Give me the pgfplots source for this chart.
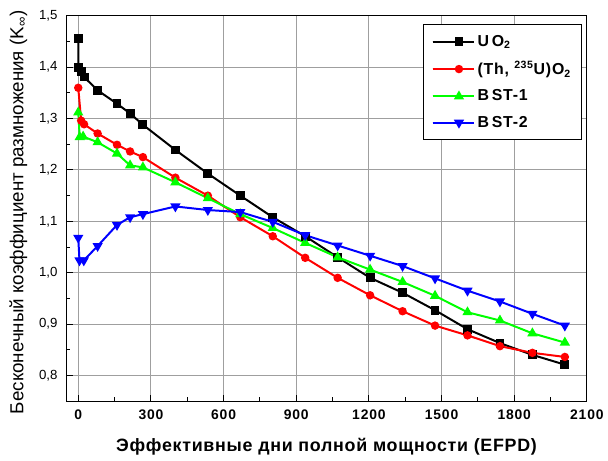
\documentclass[border=0pt]{standalone}
\usepackage{pgfplots}
\pgfplotsset{compat=1.18}
\usepackage{fontspec}
\setmainfont{Liberation Sans}
\begin{document}
\begin{tikzpicture}
\begin{axis}[
  scale only axis,
  width=393.6pt, height=291.2pt,
  xmin=-50, xmax=2100, ymin=0.75, ymax=1.5,
  xtick={0,300,...,2100},
  minor xtick={150,450,...,1950},
  ytick={0.8,0.9,...,1.51},
  minor ytick={0.75,0.85,...,1.46},
  tick align=inside,
  tick pos=left,
  major tick length=5pt,
  minor tick length=3pt,
  every tick/.style={black, line width=0.75pt},
  grid=major,
  major grid style={gray!75, line width=0.8pt},
  axis line style={black, line width=0.9pt},
  /pgf/number format/assume math mode=true,
  yticklabel style={font=\fontsize{10}{12}\selectfont, /pgf/number format/.cd, use comma, fixed, fixed zerofill, precision=1},
  xticklabel style={font=\fontsize{10.5}{12}\selectfont\bfseries\addfontfeature{LetterSpace=6}, yshift=-3pt, /pgf/number format/.cd, 1000 sep={}},
  yticklabel shift=3pt,
  xlabel={\addfontfeature{LetterSpace=4}Эффективные дни полной мощности (EFPD)},
  xlabel style={font=\fontsize{13.5}{16}\selectfont\bfseries, at={(axis description cs:0.5,-0.131)}, anchor=base},
  ylabel={Бесконечный коэффициент размножения (K\textsubscript{∞})},
  ylabel style={font=\fontsize{14.2}{16}\selectfont, at={(axis description cs:-0.092,0.49)}, anchor=center},
  legend style={at={(axis description cs:0.991,0.979)}, anchor=north east,
    draw=black, line width=1pt, fill=white,
    font=\fontsize{12}{14}\selectfont\bfseries\addfontfeature{LetterSpace=5},
    row sep=6pt, inner xsep=6pt, inner ysep=6pt},
  legend cell align=left,
  legend image code/.code={
    \draw[#1, line width=1.5pt] (0cm,0cm) -- (1.1cm,0cm);
    \draw[#1, line width=1.5pt, mark repeat=2, mark phase=2] plot coordinates {(0cm,0cm) (0.7cm,0cm) (1.1cm,0cm)};
  },
]
\addplot[black, line width=1.5pt, mark=square*, mark size=2.6pt] coordinates {
(0,1.456) (1,1.400) (12,1.392) (24,1.381) (80,1.355) (160,1.329) (214,1.310) (267,1.288)
(401,1.239) (535,1.193) (669,1.150) (803,1.108) (937,1.071) (1071,1.030) (1205,0.990)
(1339,0.961) (1473,0.927) (1607,0.890) (1741,0.863) (1875,0.840) (2009,0.821)};
\addlegendentry{U\,O\textsubscript{2}}
\addplot[red, line width=1.5pt, mark=*, mark size=2.4pt] coordinates {
(0,1.360) (12,1.296) (24,1.289) (80,1.271) (160,1.249) (214,1.236) (267,1.225)
(401,1.185) (535,1.150) (669,1.108) (803,1.071) (937,1.029) (1071,0.990) (1205,0.956)
(1339,0.925) (1473,0.897) (1607,0.878) (1741,0.857) (1875,0.844) (2009,0.836)};
\addlegendentry{(Th, \textsuperscript{235}U)O\textsubscript{2}}
\addplot[green, line width=1.5pt, mark=triangle*, mark size=3pt] coordinates {
(0,1.312) (6,1.264) (20,1.265) (80,1.254) (160,1.232) (214,1.209) (267,1.205)
(401,1.176) (535,1.145) (669,1.114) (803,1.087) (937,1.058) (1071,1.030) (1205,1.006)
(1339,0.982) (1473,0.955) (1607,0.923) (1741,0.907) (1875,0.882) (2009,0.864)};
\addlegendentry{B\,ST-1}
\addplot[blue, line width=1.5pt, mark=triangle*, mark size=3pt, mark options={rotate=180}] coordinates {
(0,1.068) (5,1.024) (23,1.024) (80,1.052) (160,1.093) (214,1.108) (267,1.114)
(401,1.129) (535,1.122) (669,1.118) (803,1.099) (937,1.073) (1071,1.053) (1205,1.033)
(1339,1.013) (1473,0.989) (1607,0.965) (1741,0.944) (1875,0.920) (2009,0.897)};
\addlegendentry{B\,ST-2}
\end{axis}
\path ([xshift=-50pt,yshift=-44.8pt]current axis.south west) rectangle ([xshift=12.4pt,yshift=12pt]current axis.north east);
\end{tikzpicture}
\end{document}
